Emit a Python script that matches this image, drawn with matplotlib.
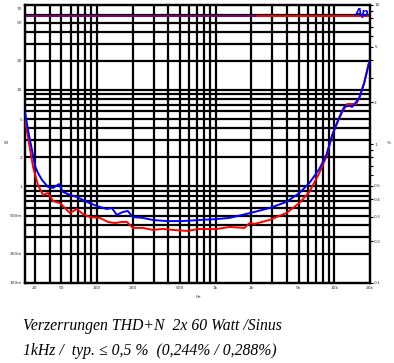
import matplotlib
matplotlib.use("Agg")
import matplotlib.pyplot as plt
from matplotlib.ticker import FixedLocator, NullFormatter, NullLocator

# ---- data ----
red_freq = [24.8, 27.4, 29.0, 31.9, 35.2, 38.8, 42.7, 48.9, 53.8, 59.3, 67.9, 76.2, 87.3,
            106, 124, 142, 162, 179, 201, 244, 296, 359, 435, 571, 734, 1000, 1312, 1754,
            1931, 2128, 2844, 3951, 5082, 6166, 7482, 8570, 9623, 10400, 11670, 12850,
            15310, 16220, 17870, 19680]
red_thd = [1.49, 0.905, 0.683, 0.507, 0.430, 0.444, 0.389, 0.376, 0.346, 0.319, 0.341, 0.314,
           0.298, 0.294, 0.275, 0.270, 0.275, 0.275, 0.249, 0.249, 0.241, 0.245, 0.241, 0.237,
           0.245, 0.244, 0.253, 0.249, 0.270, 0.266, 0.284, 0.319, 0.376, 0.452, 0.619, 0.806,
           1.16, 1.37, 1.70, 1.94, 1.94, 2.14, 2.75, 3.89]

blue_freq = [24.8, 26.3, 28.4, 30.1, 31.9, 34.5, 38.8, 42.7, 48.0, 51.8, 59.3, 67.9, 82.4,
             100, 121, 134, 147, 165, 182, 201, 244, 296, 387, 528, 734, 1000, 1312, 1968,
             2844, 3951, 5082, 6166, 7482, 8570, 9623, 11020, 12130, 13370, 14160, 16220,
             17870, 19680]
blue_thd = [1.70, 1.26, 0.905, 0.695, 0.619, 0.551, 0.491, 0.483, 0.515, 0.452, 0.430, 0.416,
            0.383, 0.358, 0.341, 0.346, 0.309, 0.324, 0.330, 0.298, 0.294, 0.284, 0.279, 0.279,
            0.284, 0.288, 0.294, 0.319, 0.346, 0.383, 0.444, 0.524, 0.661, 0.834, 1.16, 1.56,
            1.85, 1.88, 1.85, 2.14, 2.75, 3.89]

# output power (W, left axis)
pow_red_freq = [24.8, 19680]
pow_red_w = [58.5, 58.5]
pow_blue_freq = [24.8, 2200]
pow_blue_w = [58.5, 58.5]

x_tick_pos = [30, 50, 100, 200, 500, 1000, 2000, 5000, 10000, 20000]
x_tick_labels = ["20", "50", "100", "200", "500", "1k", "2k", "5k", "10k", "20k"]
w_tick_pos = [70, 50, 20, 10, 5, 2, 1, 0.5, 0.2, 0.1]
w_tick_labels = ["70", "50", "20", "10", "5", "2", "1", "500m", "200m", "100m"]
pct_tick_pos = [10, 5, 2, 1, 0.5, 0.4, 0.3, 0.2, 0.1]
pct_tick_labels = ["10", "5", "2", "1", "0.5", "0.4", "0.3", "0.2", "0.1"]
pct_minor = [9, 8, 7, 6, 4, 3, 0.9, 0.8, 0.7, 0.6]
x_grid = [30, 40, 50, 60, 70, 80, 90, 100, 200, 300, 400, 500, 600, 700, 800, 900,
          1000, 2000, 3000, 4000, 5000, 6000, 7000, 8000, 9000, 10000]
w_grid = [0.2, 0.3, 0.4, 0.5, 0.6, 0.7, 0.8, 0.9, 1, 2, 3, 4, 5, 6, 7, 8, 9, 10,
          20, 30, 40, 50, 60]

caption1 = "Verzerrungen THD+N  2x 60 Watt /Sinus"
caption2 = "1kHz /  typ. \u2264 0,5 %  (0,244% / 0,288%)"

# ---- figure ----
fig = plt.figure(figsize=(3.94, 3.63), dpi=100)
ax = fig.add_axes([25/394, 1-283/363, 345/394, 278/363])
ax.set_xscale("log")
ax.set_yscale("log")
ax.set_xlim(24.8, 20000)
ax.set_ylim(0.1, 76)

for xv in x_grid:
    ax.axvline(xv, color="black", lw=1.6, zorder=1)
for yv in w_grid:
    ax.axhline(yv, color="black", lw=1.6, zorder=1)

for s in ax.spines.values():
    s.set_linewidth(1.6)

ax.plot(pow_red_freq, pow_red_w, color="#ff0000", lw=1.4, zorder=3)
ax.plot(pow_blue_freq, pow_blue_w, color="#0000ff", lw=1.4, alpha=0.5, zorder=4)

ax.xaxis.set_major_locator(FixedLocator(x_tick_pos))
ax.set_xticklabels(x_tick_labels)
ax.xaxis.set_minor_locator(NullLocator())
ax.yaxis.set_major_locator(FixedLocator(w_tick_pos))
ax.set_yticklabels(w_tick_labels)
ax.yaxis.set_minor_locator(NullLocator())
ax.tick_params(axis="both", length=0, labelsize=3.2, pad=2, labelcolor="#333333")

ax2 = ax.twinx()
ax2.set_yscale("log")
ax2.set_ylim(0.1, 10)
ax2.plot(red_freq, red_thd, color="#ff0000", lw=1.4, zorder=5)
ax2.plot(blue_freq, blue_thd, color="#0000ff", lw=1.4, zorder=6)
ax2.yaxis.set_major_locator(FixedLocator(pct_tick_pos))
ax2.set_yticklabels(pct_tick_labels)
ax2.yaxis.set_minor_locator(FixedLocator(pct_minor))
ax2.yaxis.set_minor_formatter(NullFormatter())
ax2.tick_params(axis="y", which="major", length=2, width=0.8, labelsize=3.2, pad=1,
                labelcolor="#333333")
ax2.tick_params(axis="y", which="minor", length=2, width=0.8)
for s in ax2.spines.values():
    s.set_linewidth(1.6)

ax2.text(0.997, 0.99, "Ap", transform=ax2.transAxes, ha="right", va="top",
         color="#0000ff", fontsize=7, fontweight="bold", fontstyle="italic", zorder=10)

fig.text(198/394, 1-297/363, "Hz", fontsize=3.2, ha="center", va="center", color="#333333")
fig.text(6/394, 1-143/363, "W", fontsize=3.2, ha="center", va="center", color="#333333")
fig.text(389/394, 1-143/363, "%", fontsize=3.2, ha="center", va="center", color="#333333")

fig.text(23/394, 1-326/363, caption1, fontsize=11.3, family="Liberation Serif",
         style="italic", ha="left", va="center")
fig.text(23/394, 1-351/363, caption2, fontsize=11.3, family="Liberation Serif",
         style="italic", ha="left", va="center")

fig.savefig("out.png", dpi=100)
